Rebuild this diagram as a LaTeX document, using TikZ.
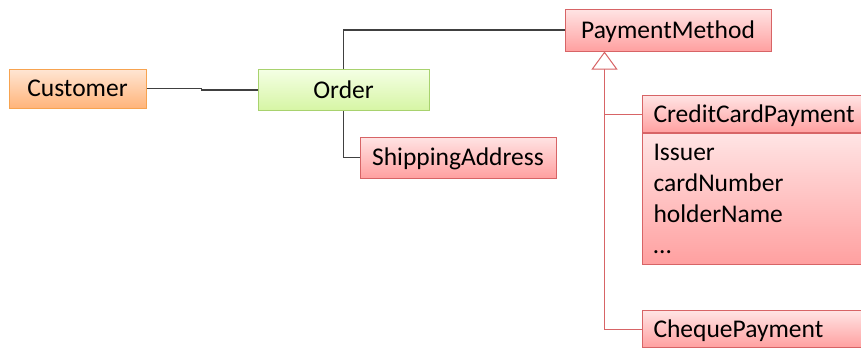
\documentclass[tikz,border=0pt]{standalone}
\usepackage{fontspec}
\setmainfont{Carlito}
\usetikzlibrary{arrows.meta}
\definecolor{redline}{RGB}{215,100,102}
\definecolor{redtop}{RGB}{255,228,228}
\definecolor{redbot}{RGB}{255,160,160}
\definecolor{orangeline}{RGB}{247,163,80}
\definecolor{orangetop}{RGB}{255,230,212}
\definecolor{orangebot}{RGB}{255,180,122}
\definecolor{greenline}{RGB}{168,210,110}
\definecolor{greentop}{RGB}{244,255,228}
\definecolor{greenbot}{RGB}{214,245,164}
\definecolor{linkgray}{RGB}{64,64,64}

\begin{document}
\begin{tikzpicture}[x=1pt,y=-1pt,
  box/.style={draw,line width=1pt,inner xsep=11pt,inner ysep=0pt,font=\fontsize{25.5}{31}\selectfont},
  oneline/.style={text height=20.5pt,text depth=4pt},
  redbox/.style={box,draw=redline,top color=redtop,bottom color=redbot},
  leftbox/.style={redbox,anchor=north west,minimum width=240pt,text width=218pt,align=left},
  link/.style={draw=linkgray,line width=1.2pt},
  inherit/.style={draw=redline,line width=1pt,-{Triangle[fill=white,length=18pt,width=26pt]}}]
\useasboundingbox (0,0) rectangle (861,348);
\clip (0,0) rectangle (861,348);
% classes
\node[box,oneline,draw=orangeline,top color=orangetop,bottom color=orangebot,minimum width=137pt,minimum height=39pt] (cust) at (77.5,88.5) {Customer};
\node[box,oneline,draw=greenline,top color=greentop,bottom color=greenbot,minimum width=171pt,minimum height=41pt] (order) at (343.5,90) {Order};
\node[redbox,oneline,minimum width=206pt,minimum height=42pt] (pay) at (668,30) {PaymentMethod};
\node[redbox,oneline,minimum width=196pt,minimum height=41pt] (ship) at (458,157.5) {ShippingAddress};
\node[leftbox,oneline,minimum height=37pt] (ccp) at (642,95) {CreditCardPayment};
\node[leftbox,minimum height=131pt] (ccpbody) at (ccp.south west) {Issuer\\cardNumber\\holderName\\…};
\node[leftbox,oneline,minimum height=37pt] (cheque) at (642,310) {ChequePayment};
\coordinate (gen) at ([xshift=40pt]pay.south west);
% associations
\draw[link] (cust.east) -- ++(55,0) |- (order.west);
\draw[link] (order.north) |- (pay.west);
\draw[link] (order.south) |- (ship.west);
% generalisation
\draw[inherit] (cheque.west) -| (gen);
\draw[draw=redline,line width=1pt] (ccp.west) -- (ccp.west -| gen);
\end{tikzpicture}
\end{document}
